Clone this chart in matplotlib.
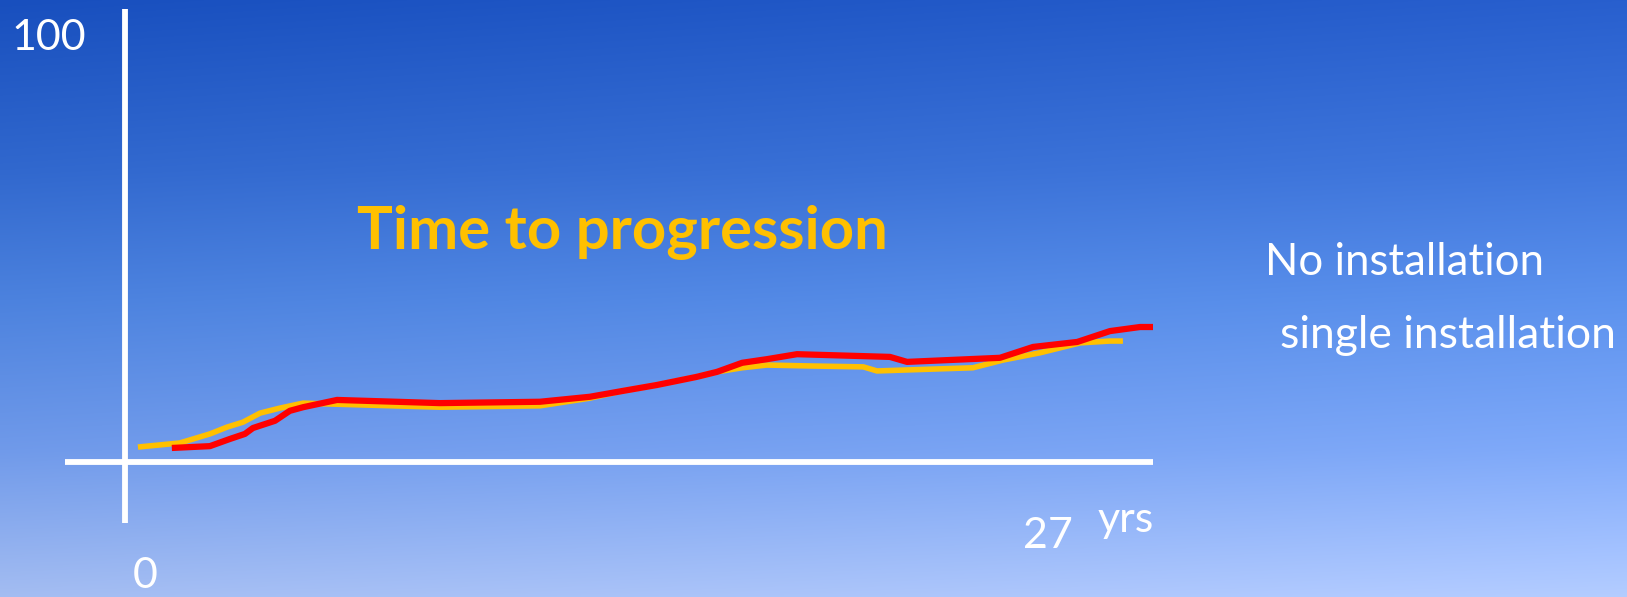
import numpy as np
import matplotlib.pyplot as plt

# ---- data -------------------------------------------------------------
years_none = [0.34, 1.44, 2.23, 2.68, 3.10, 3.55, 4.07, 4.68, 5.38, 8.27, 10.90,
              12.21, 13.08, 13.97, 15.02, 15.55, 16.21, 16.86, 17.99, 19.39,
              19.75, 22.27, 23.06, 24.03, 25.09, 25.87, 26.21]
pct_none = [3.3, 4.2, 6.2, 7.7, 8.8, 10.8, 11.9, 13.0, 12.8, 12.1, 12.4,
            14.1, 15.7, 17.0, 18.8, 19.9, 20.8, 21.4, 21.2, 21.0,
            20.1, 20.8, 22.5, 24.1, 26.3, 26.7, 26.7]

years_single = [1.23, 2.23, 2.76, 3.15, 3.36, 3.94, 4.33, 4.68, 5.57, 8.27, 10.90,
                12.21, 13.08, 13.97, 15.02, 15.55, 16.21, 16.86, 17.65, 20.09,
                20.54, 22.98, 23.85, 25.01, 25.87, 26.66, 27.0]
pct_single = [3.1, 3.5, 5.1, 6.2, 7.5, 9.1, 11.3, 12.1, 13.7, 13.0, 13.3,
              14.4, 15.7, 17.0, 18.8, 19.9, 21.9, 22.7, 23.8, 23.2,
              22.1, 23.0, 25.4, 26.5, 28.9, 29.8, 29.8]

x_max_label = 27
y_max_label = 100
title = "Time to progression"
series_labels = ["No installation", "single installation"]
unit_label = "yrs"

GOLD = "#FFC000"
RED = "#FF0000"

# ---- figure -----------------------------------------------------------
W, H = 1627, 597
fig = plt.figure(figsize=(W / 100, H / 100), dpi=100)

# sky-blue vertical gradient behind everything
bg = fig.add_axes([0, 0, 1, 1])
bg.set_axis_off()
rows = np.arange(H)
stops_y = [0, 170, 300, 450, 597]
stops_rgb = np.array([[30, 85, 196],
                      [55, 110, 212],
                      [82, 136, 228],
                      [118, 160, 240],
                      [170, 195, 248]], dtype=float)
grad = np.stack([np.interp(rows, stops_y, stops_rgb[:, c]) for c in range(3)], axis=-1)
xshift = np.linspace(-6, 10, W)
img = grad[:, None, :] + xshift[None, :, None]
img = np.clip(img, 0, 255) / 255.0
bg.imshow(img, aspect="auto", extent=[0, 1, 0, 1], origin="upper")
bg.set_xlim(0, 1)
bg.set_ylim(0, 1)

# plotting axes spanning the whole canvas; data scale set so the
# origin and the 27-year / 100 % marks land where the axis lines sit
ax = fig.add_axes([0, 0, 1, 1], facecolor="none")
ax.set_axis_off()
px_x0, px_x27 = 125, 1153
px_y0, px_y100 = 462, 9
sx = (px_x27 - px_x0) / x_max_label
sy = (px_y0 - px_y100) / y_max_label
ax.set_xlim(-px_x0 / sx, (W - px_x0) / sx)
ax.set_ylim((px_y0 - H) / sy, px_y0 / sy)

axis_lw = 4.2
ax.plot([0, 0], [(px_y0 - 523) / sy, y_max_label], color="white", lw=axis_lw,
        solid_capstyle="butt")
ax.plot([(65 - px_x0) / sx, x_max_label], [0, 0], color="white", lw=axis_lw,
        solid_capstyle="butt")

ax.plot(years_none, pct_none, color=GOLD, lw=4.0, solid_capstyle="butt",
        solid_joinstyle="round", zorder=3)
ax.plot(years_single, pct_single, color=RED, lw=4.5, solid_capstyle="butt",
        solid_joinstyle="round", zorder=4)


def ptext(x, y, s, **kw):
    fig.text(x / W, 1 - y / H, s, **kw)


FONT = "Lato"
ptext(11, 50, str(y_max_label), color="white", fontsize=31, family=FONT, va="baseline")
ptext(133, 588, "0", color="white", fontsize=31, family=FONT, va="baseline")
ptext(1023, 548, str(x_max_label), color="white", fontsize=31, family=FONT, va="baseline")
ptext(1098, 532, unit_label, color="white", fontsize=31, family=FONT, va="baseline")

ptext(357, 249, title, color=GOLD, fontsize=43, family=FONT, weight="bold",
      va="baseline")
ptext(1265, 275, series_labels[0], color="white", fontsize=31.5, family=FONT, va="baseline")
ptext(1280, 348, series_labels[1], color="white", fontsize=32, family=FONT, va="baseline")

fig.savefig("out.png", dpi=100)
